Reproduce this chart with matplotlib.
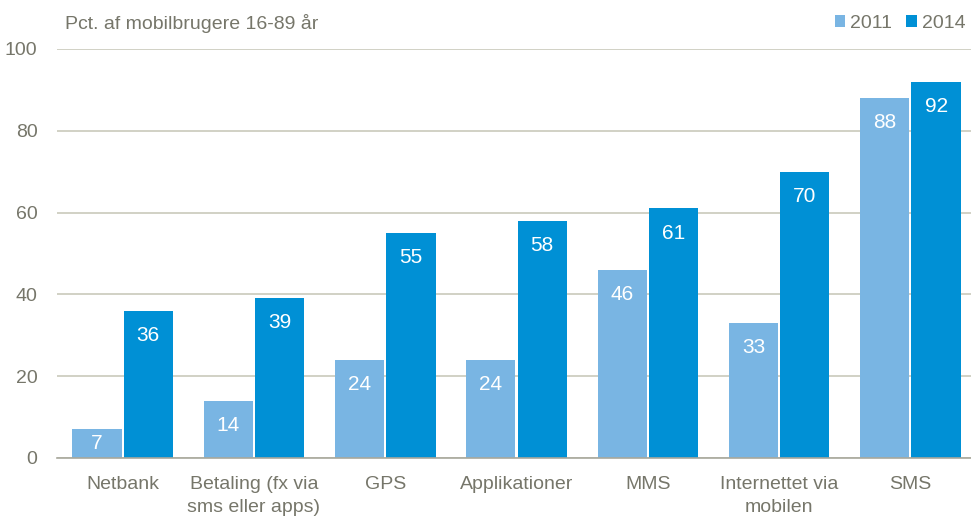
import matplotlib.pyplot as plt
import numpy as np
from matplotlib import font_manager

names = {f.name for f in font_manager.fontManager.ttflist}
fam = 'Liberation Sans Narrow' if 'Liberation Sans Narrow' in names else 'Liberation Sans'
plt.rcParams['font.family'] = [fam, 'DejaVu Sans']

categories = ['Netbank', 'Betaling (fx via\nsms eller apps)', 'GPS', 'Applikationer',
              'MMS', 'Internettet via\nmobilen', 'SMS']
v2011 = [7, 14, 24, 24, 46, 33, 88]
v2014 = [36, 39, 55, 58, 61, 70, 92]
series = ['2011', '2014']

c11 = '#79b5e3'
c14 = '#0090d5'
grey = '#76766a'
gridc = '#c9c9bb'

fig = plt.figure(figsize=(9.71, 5.21), dpi=100)
ax = fig.add_axes([0.0587, 0.121, 0.9465, 0.785])

x = np.arange(len(categories))
w = 0.375
b1 = ax.bar(x - w / 2 - 0.008, v2011, w, color=c11, label=series[0], zorder=2)
b2 = ax.bar(x + w / 2 + 0.008, v2014, w, color=c14, label=series[1], zorder=2)

for bars, vals in ((b1, v2011), (b2, v2014)):
    for r, v in zip(bars, vals):
        y = max(v - 6, v / 2)
        ax.text(r.get_x() + r.get_width() / 2, y, str(v), ha='center', va='center',
                color='white', fontsize=15)

ax.set_xlim(-0.5, len(categories) - 0.5)
ax.set_ylim(0, 100)
ax.set_yticks([0, 20, 40, 60, 80, 100])
ax.yaxis.grid(True, color=gridc, linewidth=1.2, zorder=0)
ax.set_axisbelow(True)
for s in ['left', 'right', 'top']:
    ax.spines[s].set_visible(False)
ax.spines['bottom'].set_color('#a8a89c')
ax.spines['bottom'].set_linewidth(1.2)
ax.tick_params(axis='both', length=0, labelsize=14, colors=grey)
ax.tick_params(axis='y', pad=14)
ax.tick_params(axis='x', pad=13)
ax.set_xticks(x)
ax.set_xticklabels(categories, linespacing=1.45)

fig.text(0.067, 0.955, 'Pct. af mobilbrugere 16-89 år', color=grey, fontsize=14,
         va='center', ha='left')

leg = fig.legend(handles=[b1, b2], labels=series, loc='center right',
                 bbox_to_anchor=(1.012, 0.955), ncol=2, frameon=False,
                 fontsize=14, handlelength=0.55, handleheight=0.55,
                 handletextpad=0.25, columnspacing=0.7, labelcolor=grey)

fig.savefig('out.png', dpi=100)
